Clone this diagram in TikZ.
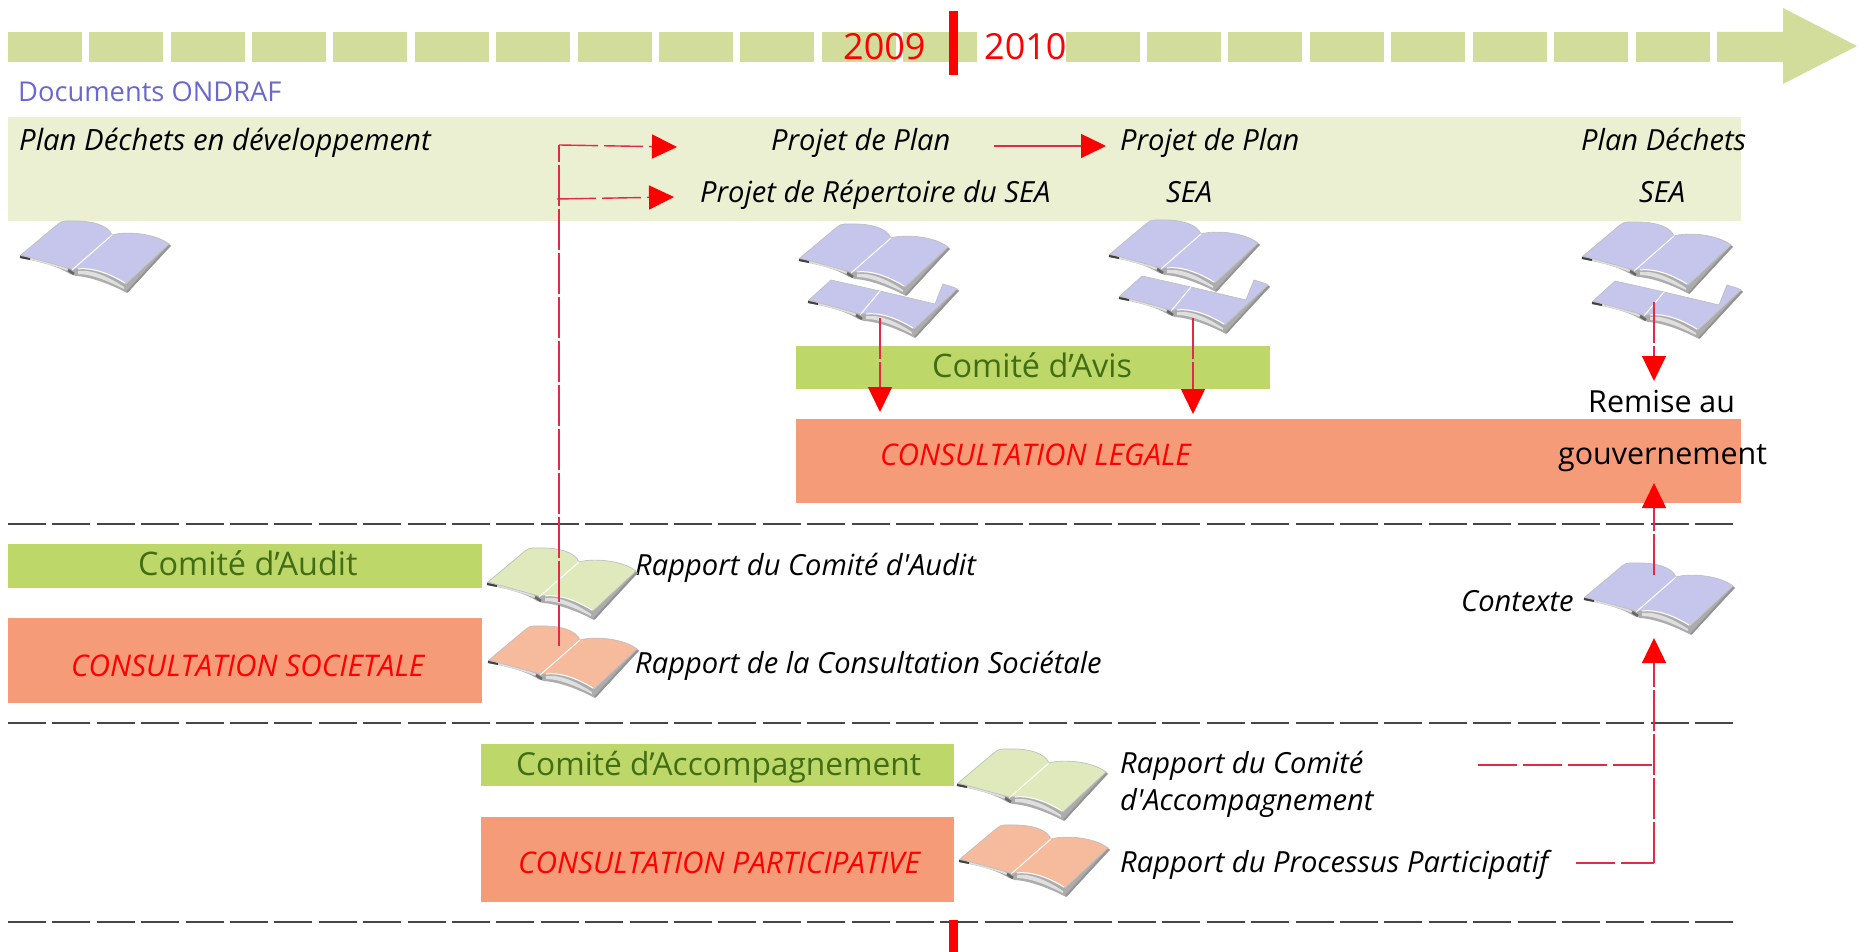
\documentclass[tikz,border=0pt]{standalone}
\usepackage{fontspec}
\setmainfont{Open Sans}[Ligatures=TeXOff]
\usetikzlibrary{arrows.meta}
\definecolor{seg_col}{RGB}{210,220,155}
\definecolor{band_col}{RGB}{235,240,210}
\definecolor{green_box}{RGB}{190,215,105}
\definecolor{orange_box}{RGB}{245,155,120}
\definecolor{green_txt}{RGB}{65,110,20}
\definecolor{blue_txt}{RGB}{105,105,205}
\definecolor{red_line}{RGB}{228,40,70}
\definecolor{dash_col}{RGB}{70,70,70}
\definecolor{book_blue}{RGB}{198,198,236}
\definecolor{book_green}{RGB}{224,233,188}
\definecolor{book_orange}{RGB}{246,186,156}
\begin{document}
\begin{tikzpicture}[x=1pt,y=-1pt,
		seg_style/.style={rectangle,fill=seg_col,minimum width=74.5pt,minimum height=29.5pt,inner sep=0pt},
		box_style/.style={rectangle,anchor=north west,inner sep=0pt},
		green_style/.style={box_style,fill=green_box},
		orange_style/.style={box_style,fill=orange_box},
		txt_style/.style={anchor=base west,inner sep=0pt,font=\fontsize{29.1}{32}\selectfont\itshape},
		up_style/.style={anchor=base west,inner sep=0pt,font=\fontsize{30.4}{34}\selectfont},
		com_style/.style={anchor=base west,inner sep=0pt,text=green_txt,font=\fontsize{32.4}{36}\selectfont},
		cons_style/.style={anchor=base west,inner sep=0pt,text=red,font=\fontsize{29.8}{32}\selectfont\itshape},
		year_style/.style={anchor=base west,inner sep=0pt,text=red,font=\fontsize{36}{40}\selectfont},
		tick_style/.style={fill=red},
		sep_style/.style={draw=dash_col,line width=1.5pt,dash pattern=on 38pt off 6.4pt},
		edge_style/.style={draw=red_line,line width=1.4pt,dash pattern=on 39pt off 6pt},
		vert_style/.style={dash pattern=on 41pt off 3pt},
		arrow_style/.style={draw=red_line,line width=1.4pt,dash pattern=on 39pt off 6pt,-{Triangle[length=25pt,width=24pt,red]}},
		book_low/.pic={
			\fill[gray!65] (0,-2) -- (50,11) -- (74,10) -- (106,27) -- (148,-13) -- (151,-11) -- (107,36) .. controls (92,28) and (72,20) .. (56,19) -- (50,17) .. controls (36,8) and (16,4) .. (0,1) -- cycle;
			\fill[gray!25] (8,0) .. controls (22,2) and (38,7) .. (48,12) -- (48,14) .. controls (36,9) and (20,5) .. (8,2) -- cycle;
			\fill[gray!25] (58,14) .. controls (74,12) and (92,22) .. (104,30) -- (104,32) .. controls (90,25) and (72,17) .. (58,17) -- cycle;
			\draw[black!75,line width=2pt] (0,0) -- (10,2);
			\draw[black!60,line width=2.5pt] (48,13) -- (54,17);
			\draw[gray!85,line width=1.8pt] (107,35) -- (150,-12);
		},
		book_pic/.pic={
			\pic {book_low};
			\draw[gray!50,line width=0.7pt,fill=#1] (1,-2) -- (38,-33) .. controls (42,-37) and (48,-36) .. (56,-36) .. controls (72,-36) and (88,-32) .. (92,-22) .. controls (105,-26) and (135,-24) .. (149,-13) -- (106,27) .. controls (92,18) and (72,10) .. (52,12) -- cycle;
			\draw[white,line width=1pt] (92,-22) -- (52,13);
			\draw[white,line width=1pt] (58,12) .. controls (74,10) and (92,18) .. (105,26);
		},
		half_pic/.pic={
			\pic {book_low};
			\draw[gray!50,line width=0.7pt,fill=#1] (1,-2) -- (23,-22) -- (72,-11) -- (127,2) -- (135,-18) .. controls (141,-16) and (146,-15) .. (149,-13) -- (106,27) .. controls (92,18) and (72,10) .. (52,12) -- cycle;
			\draw[white,line width=1pt] (72,-11) -- (52,13);
			\draw[white,line width=1pt] (58,12) .. controls (74,10) and (92,18) .. (105,26);
		}]

		\useasboundingbox (0,0) rectangle (1860,952);

		\node[seg_style] (s0) at (45,47) {};
		\node[seg_style] (s1) at (126,47) {};
		\node[seg_style] (s2) at (208,47) {};
		\node[seg_style] (s3) at (289,47) {};
		\node[seg_style] (s4) at (370,47) {};
		\node[seg_style] (s5) at (452,47) {};
		\node[seg_style] (s6) at (533,47) {};
		\node[seg_style] (s7) at (615,47) {};
		\node[seg_style] (s8) at (696,47) {};
		\node[seg_style] (s9) at (777,47) {};
		\node[seg_style] (s10) at (859,47) {};
		\node[seg_style] (s11) at (940,47) {};
		\node[seg_style] (s12) at (1103,47) {};
		\node[seg_style] (s13) at (1184,47) {};
		\node[seg_style] (s14) at (1265,47) {};
		\node[seg_style] (s15) at (1347,47) {};
		\node[seg_style] (s16) at (1428,47) {};
		\node[seg_style] (s17) at (1510,47) {};
		\node[seg_style] (s18) at (1591,47) {};
		\node[seg_style] (s19) at (1673,47) {};
		\fill[seg_col] (1717,32) -- (1783,32) -- (1783,8) -- (1857,46) -- (1783,84) -- (1783,62) -- (1717,62) -- cycle;

		\node[box_style,fill=band_col,minimum width=1733pt,minimum height=104pt] (band) at (8,117) {};
		\node[green_style,minimum width=474pt,minimum height=43pt] (avis_box) at (796,346) {};
		\node[orange_style,minimum width=945pt,minimum height=84pt] (legale_box) at (796,419) {};
		\node[green_style,minimum width=474pt,minimum height=44pt] (audit_box) at (8,544) {};
		\node[orange_style,minimum width=474pt,minimum height=85pt] (soc_box) at (8,618) {};
		\node[green_style,minimum width=473pt,minimum height=42pt] (acc_box) at (481,744) {};
		\node[orange_style,minimum width=473pt,minimum height=85pt] (part_box) at (481,817) {};

		\draw[sep_style] (8,524) -- (1734,524);
		\draw[sep_style] (8,723) -- (1734,723);
		\draw[sep_style] (8,922) -- (1734,922);

		\node[year_style] (y2009) at (843,60) {2009};
		\node[year_style] (y2010) at (984,60) {2010};
		\fill[tick_style] (949,11) rectangle (958,75);
		\fill[tick_style] (949,920) rectangle (958,952);

		\node[anchor=base west,inner sep=0pt,text=blue_txt,font=\fontsize{27.3}{32}\selectfont] (docs) at (18,102) {Documents ONDRAF};
		\node[txt_style,font=\fontsize{29.3}{32}\selectfont\itshape] (t_dev) at (19,151) {Plan Déchets en développement};
		\node[txt_style] (t_plan1) at (771,151) {Projet de Plan};
		\node[txt_style] (t_rep) at (700,203) {Projet de Répertoire du SEA};
		\node[txt_style] (t_plan2) at (1120,151) {Projet de Plan};
		\node[txt_style] (t_sea1) at (1166,203) {SEA};
		\node[txt_style] (t_plan3) at (1581,151) {Plan Déchets};
		\node[txt_style] (t_sea2) at (1639,203) {SEA};
		\node[com_style] (c_avis) at (932,377) {Comité d’Avis};
		\node[cons_style] (c_legale) at (880,465) {CONSULTATION LEGALE};
		\node[up_style] (t_rem1) at (1588,412) {Remise au};
		\node[up_style] (t_rem2) at (1558,464) {gouvernement};
		\node[com_style] (c_audit) at (138,575) {Comité d’Audit};
		\node[cons_style] (c_soc) at (71,676) {CONSULTATION SOCIETALE};
		\node[com_style,font=\fontsize{31.7}{36}\selectfont] (c_acc) at (516,775) {Comité d’Accompagnement};
		\node[cons_style] (c_part) at (518,873) {CONSULTATION PARTICIPATIVE};
		\node[txt_style] (t_audit) at (635,575) {Rapport du Comité d'Audit};
		\node[txt_style] (t_soc) at (635,673) {Rapport de la Consultation Sociétale};
		\node[txt_style] (t_acc1) at (1120,773) {Rapport du Comité};
		\node[txt_style] (t_acc2) at (1120,810) {d'Accompagnement};
		\node[txt_style] (t_part) at (1120,872) {Rapport du Processus Participatif};
		\node[txt_style] (t_ctx) at (1461,611) {Contexte};

		\pic (b0) at (20,257) {book_pic=book_blue};
		\pic (h1) at (808,302) {half_pic=book_blue};
		\pic (b1) at (799,260) {book_pic=book_blue};
		\pic (h2) at (1119,298) {half_pic=book_blue};
		\pic (b2) at (1109,256) {book_pic=book_blue};
		\pic (h3) at (1592,303) {half_pic=book_blue};
		\pic (b3) at (1582,258) {book_pic=book_blue};
		\pic (b4) at (1584,599) {book_pic=book_blue};
		\pic (b5) at (487,584) {book_pic=book_green};
		\pic (b6) at (488,662) {book_pic=book_orange};
		\pic (b7) at (957,785) {book_pic=book_green};
		\pic (b8) at (959,861) {book_pic=book_orange};

		\coordinate (p0) at (559,646);
		\coordinate (p1) at (559,145);
		\coordinate (p2) at (557,199);
		\coordinate (a1) at (677,147);
		\coordinate (a2) at (674,197);
		\coordinate (p3) at (994,146);
		\coordinate (a3) at (1106,146);
		\coordinate (p4) at (880,318);
		\coordinate (a4) at (880,412);
		\coordinate (p5) at (1193,318);
		\coordinate (a5) at (1193,414);
		\coordinate (p6) at (1654,302);
		\coordinate (a6) at (1654,381);
		\coordinate (p7) at (1654,575);
		\coordinate (a7) at (1654,483);
		\coordinate (p8) at (1654,863);
		\coordinate (a8) at (1654,638);
		\coordinate (p9) at (1478,765);
		\coordinate (p10) at (1652,765);
		\coordinate (p11) at (1576,863);

		\draw[edge_style,vert_style] (p0) -- (p1);
		\draw[arrow_style] (p1) -- (a1);
		\draw[arrow_style] (p2) -- (a2);
		\draw[arrow_style,dash pattern=on 200pt off 0pt] (p3) -- (a3);
		\draw[arrow_style,vert_style] (p4) -- (a4);
		\draw[arrow_style,vert_style] (p5) -- (a5);
		\draw[arrow_style,vert_style] (p6) -- (a6);
		\draw[arrow_style,vert_style] (p7) -- (a7);
		\draw[arrow_style,vert_style] (p8) -- (a8);
		\draw[edge_style] (p9) -- (p10);
		\draw[edge_style] (p11) -- (p8);
		\end{tikzpicture}
\end{document}
